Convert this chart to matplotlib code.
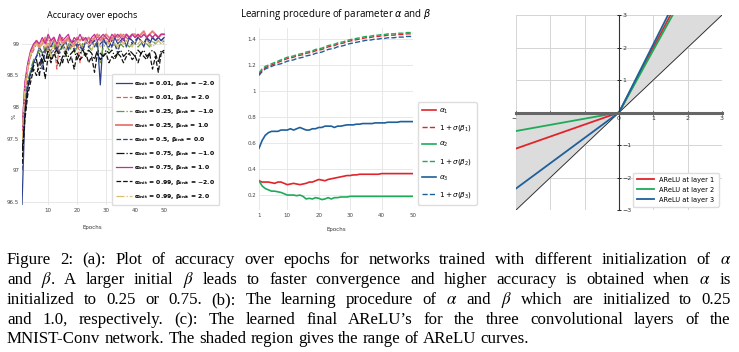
import numpy as np
import matplotlib
matplotlib.use("Agg")
import matplotlib.pyplot as plt

epochs = np.arange(1, 51)

# (a) accuracy over epochs
acc_labels = [
    r"$\mathbf{\alpha_{init}}$ = 0.01, $\mathbf{\beta_{init}}$ = $-$2.0",
    r"$\mathbf{\alpha_{init}}$ = 0.01, $\mathbf{\beta_{init}}$ = 2.0",
    r"$\mathbf{\alpha_{init}}$ = 0.25, $\mathbf{\beta_{init}}$ = $-$1.0",
    r"$\mathbf{\alpha_{init}}$ = 0.25, $\mathbf{\beta_{init}}$ = 1.0",
    r"$\mathbf{\alpha_{init}}$ = 0.5, $\mathbf{\beta_{init}}$ = 0.0",
    r"$\mathbf{\alpha_{init}}$ = 0.75, $\mathbf{\beta_{init}}$ = $-$1.0",
    r"$\mathbf{\alpha_{init}}$ = 0.75, $\mathbf{\beta_{init}}$ = 1.0",
    r"$\mathbf{\alpha_{init}}$ = 0.99, $\mathbf{\beta_{init}}$ = $-$2.0",
    r"$\mathbf{\alpha_{init}}$ = 0.99, $\mathbf{\beta_{init}}$ = 2.0",
]
acc_001_m2 = [96.45, 97.9, 98.3, 98.55, 98.7, 98.8, 98.95, 98.85, 98.9, 99.0,
              98.95, 99.05, 98.9, 99.0, 98.95, 99.05, 98.9, 99.0, 99.05, 98.95,
              99.0, 98.9, 99.05, 99.0, 99.05, 98.95, 99.05, 98.35, 99.1, 99.0,
              99.05, 98.95, 99.1, 99.0, 99.05, 99.1, 98.95, 99.1, 99.05, 99.0,
              99.1, 99.05, 98.95, 99.1, 99.0, 99.1, 99.05, 99.1, 99.05, 99.1]
acc_001_p2 = [97.3, 98.2, 98.6, 98.8, 98.9, 99.0, 98.95, 99.05, 98.85, 99.1,
              99.0, 99.05, 98.6, 99.05, 99.1, 99.0, 99.1, 99.05, 98.95, 99.1,
              98.7, 99.05, 99.1, 99.0, 99.1, 99.05, 99.1, 99.15, 99.05, 99.1,
              99.0, 99.1, 99.15, 99.05, 99.1, 99.15, 99.1, 99.05, 99.15, 99.1,
              99.15, 99.1, 99.15, 99.1, 99.15, 99.1, 99.15, 99.1, 99.15, 99.15]
acc_025_m1 = [97.4, 98.0, 98.4, 98.6, 98.75, 98.8, 98.9, 98.85, 98.95, 98.8,
              98.9, 99.0, 98.85, 98.9, 98.95, 98.8, 99.0, 98.9, 98.85, 98.95,
              98.9, 99.0, 98.8, 98.95, 98.9, 99.0, 98.95, 98.7, 98.95, 99.0,
              98.9, 98.95, 99.0, 98.9, 99.0, 98.95, 99.0, 98.95, 99.0, 99.0,
              98.95, 99.0, 99.05, 99.0, 98.95, 99.05, 99.0, 99.05, 99.0, 99.05]
acc_025_p1 = [97.5, 98.3, 98.65, 98.85, 98.95, 99.05, 98.95, 99.0, 99.1, 98.9,
              99.05, 99.1, 98.95, 99.1, 99.0, 99.05, 99.1, 98.95, 99.0, 99.1,
              99.05, 99.1, 99.05, 99.1, 99.0, 99.1, 99.15, 99.05, 99.1, 99.15,
              99.1, 99.05, 99.15, 99.1, 99.15, 99.1, 99.15, 99.1, 99.15, 99.15,
              99.1, 99.15, 99.2, 99.1, 99.15, 99.2, 99.15, 99.1, 99.15, 99.15]
acc_05_0 = [97.0, 98.0, 98.4, 98.55, 98.7, 98.8, 98.85, 98.6, 98.9, 98.95,
            98.85, 98.9, 98.95, 98.85, 99.0, 98.9, 98.95, 99.0, 98.9, 99.0,
            98.95, 98.9, 99.05, 98.95, 99.0, 99.05, 98.95, 99.0, 99.05, 99.0,
            98.95, 99.05, 99.0, 98.85, 99.05, 99.0, 99.05, 99.1, 99.0, 99.05,
            99.1, 99.05, 99.0, 99.1, 99.05, 99.1, 99.05, 99.1, 99.05, 99.1]
acc_075_m1 = [97.3, 97.9, 98.3, 98.5, 98.65, 98.75, 98.5, 98.85, 98.7, 98.9,
              98.75, 98.85, 98.9, 98.8, 98.7, 98.9, 98.8, 98.85, 98.9, 98.75,
              98.85, 98.9, 98.8, 98.9, 98.85, 98.75, 98.9, 98.85, 98.8, 98.9,
              98.85, 98.9, 98.8, 98.85, 98.9, 98.8, 98.85, 98.9, 98.85, 98.8,
              98.9, 98.85, 98.9, 98.8, 98.85, 98.9, 98.85, 98.7, 98.9, 98.85]
acc_075_p1 = [97.6, 98.4, 98.7, 98.9, 99.0, 99.05, 99.0, 99.1, 99.0, 99.15,
              99.05, 99.1, 99.0, 99.15, 99.05, 99.1, 99.15, 99.0, 99.1, 99.05,
              99.15, 99.05, 99.1, 99.0, 99.1, 99.15, 99.05, 99.1, 99.15, 99.1,
              99.05, 99.15, 99.1, 99.15, 99.1, 99.05, 99.15, 99.1, 99.15, 99.1,
              99.15, 99.1, 99.15, 99.1, 99.15, 99.1, 99.15, 99.1, 99.15, 99.15]
acc_099_m2 = [97.1, 97.8, 98.2, 98.4, 98.6, 98.5, 98.7, 98.75, 98.45, 98.8,
              98.7, 98.85, 98.75, 98.65, 98.8, 98.85, 98.7, 98.8, 98.6, 98.85,
              98.75, 98.8, 98.85, 98.7, 98.8, 98.55, 98.85, 98.75, 98.8, 98.85,
              98.7, 98.8, 98.75, 98.85, 98.8, 98.7, 98.8, 98.85, 98.75, 98.8,
              98.7, 98.85, 98.8, 98.75, 98.85, 98.6, 98.8, 98.55, 98.85, 98.9]
acc_099_p2 = [97.5, 98.3, 98.65, 98.85, 98.95, 99.0, 98.9, 99.05, 98.95, 99.0,
              98.8, 99.0, 99.05, 98.95, 99.0, 98.9, 99.05, 99.0, 98.95, 99.05,
              99.0, 98.95, 99.05, 99.0, 98.9, 99.0, 99.05, 98.95, 99.0, 99.05,
              99.0, 99.05, 99.0, 98.95, 99.05, 99.0, 99.05, 99.0, 98.95, 99.05,
              99.0, 99.05, 99.0, 99.05, 99.0, 98.95, 99.0, 99.05, 99.0, 99.0]
acc_series = [acc_001_m2, acc_001_p2, acc_025_m1, acc_025_p1, acc_05_0,
              acc_075_m1, acc_075_p1, acc_099_m2, acc_099_p2]
acc_colors = ["#2f3f8f", "#e0605a", "#6a9a3a", "#e8807a", "#2f3f8f",
              "#111111", "#c0309a", "#111111", "#d8c070"]
acc_styles = ["-", "--", "-.", "-", "--", "-.", "-", "--", "-."]
acc_widths = [0.9, 0.9, 0.9, 1.4, 0.9, 0.9, 0.9, 0.9, 0.9]

# (b) learning procedure of alpha and beta
alpha1 = [0.31, 0.30, 0.30, 0.30, 0.295, 0.29, 0.30, 0.30, 0.29, 0.28,
          0.285, 0.29, 0.285, 0.28, 0.285, 0.29, 0.30, 0.30, 0.31, 0.32,
          0.315, 0.31, 0.32, 0.325, 0.33, 0.335, 0.34, 0.345, 0.35, 0.35,
          0.355, 0.355, 0.36, 0.36, 0.36, 0.36, 0.36, 0.36, 0.36, 0.365,
          0.365, 0.365, 0.365, 0.365, 0.365, 0.365, 0.365, 0.365, 0.365, 0.365]
alpha2 = [0.31, 0.27, 0.25, 0.24, 0.23, 0.23, 0.225, 0.22, 0.21, 0.20,
          0.20, 0.20, 0.195, 0.20, 0.19, 0.17, 0.175, 0.17, 0.18, 0.175,
          0.165, 0.17, 0.18, 0.17, 0.18, 0.18, 0.185, 0.185, 0.185, 0.19,
          0.19, 0.19, 0.19, 0.19, 0.19, 0.19, 0.19, 0.19, 0.19, 0.19,
          0.19, 0.19, 0.19, 0.19, 0.19, 0.19, 0.19, 0.19, 0.19, 0.19]
alpha3 = [0.56, 0.62, 0.66, 0.68, 0.69, 0.69, 0.69, 0.70, 0.70, 0.70,
          0.71, 0.70, 0.71, 0.72, 0.71, 0.70, 0.70, 0.71, 0.71, 0.72,
          0.72, 0.73, 0.73, 0.73, 0.72, 0.73, 0.73, 0.735, 0.74, 0.74,
          0.74, 0.745, 0.745, 0.75, 0.75, 0.75, 0.75, 0.755, 0.755, 0.755,
          0.755, 0.76, 0.76, 0.76, 0.76, 0.765, 0.765, 0.765, 0.765, 0.765]
beta1 = [1.13, 1.16, 1.18, 1.19, 1.20, 1.21, 1.22, 1.23, 1.24, 1.25,
         1.255, 1.26, 1.27, 1.275, 1.28, 1.29, 1.295, 1.30, 1.31, 1.315,
         1.32, 1.33, 1.34, 1.345, 1.35, 1.36, 1.365, 1.37, 1.38, 1.385,
         1.39, 1.395, 1.40, 1.405, 1.41, 1.41, 1.415, 1.42, 1.42, 1.425,
         1.425, 1.43, 1.43, 1.43, 1.435, 1.435, 1.435, 1.44, 1.44, 1.44]
beta2 = [1.14, 1.17, 1.19, 1.20, 1.21, 1.22, 1.23, 1.24, 1.25, 1.26,
         1.265, 1.27, 1.28, 1.285, 1.29, 1.30, 1.305, 1.31, 1.32, 1.325,
         1.33, 1.34, 1.35, 1.355, 1.36, 1.37, 1.375, 1.38, 1.39, 1.395,
         1.40, 1.405, 1.41, 1.415, 1.42, 1.42, 1.425, 1.43, 1.43, 1.435,
         1.435, 1.44, 1.44, 1.44, 1.445, 1.445, 1.445, 1.45, 1.45, 1.45]
beta3 = [1.12, 1.15, 1.17, 1.18, 1.19, 1.20, 1.205, 1.21, 1.22, 1.23,
         1.235, 1.24, 1.25, 1.255, 1.26, 1.27, 1.275, 1.28, 1.29, 1.295,
         1.30, 1.31, 1.32, 1.325, 1.33, 1.34, 1.345, 1.35, 1.36, 1.365,
         1.37, 1.375, 1.38, 1.385, 1.39, 1.39, 1.395, 1.40, 1.40, 1.405,
         1.405, 1.41, 1.41, 1.41, 1.415, 1.415, 1.415, 1.42, 1.42, 1.42]
layer_colors = ["#e0242a", "#1faa5a", "#1f5f9a"]

# (c) learned final AReLU per layer
layer_labels = ["AReLU at layer 1", "AReLU at layer 2", "AReLU at layer 3"]
final_alpha = [0.37, 0.19, 0.78]
final_slope = [2.0, 1.92, 2.1]

W, H = 739, 352
fig = plt.figure(figsize=(W / 100, H / 100), dpi=100)


def px_axes(left, top, right, bottom):
    return fig.add_axes([left / W, 1 - bottom / H, (right - left) / W, (bottom - top) / H])


def clean(ax):
    for s in ax.spines.values():
        s.set_visible(False)
    ax.grid(color="#e4e4e4", lw=0.6)
    ax.set_axisbelow(True)
    ax.tick_params(length=0, labelsize=4, labelcolor="#444444", pad=2)


# ---- (a)
ax1 = px_axes(22, 28, 167, 205)
for vals, lab, c, ls, lw in zip(acc_series, acc_labels, acc_colors, acc_styles, acc_widths):
    ax1.plot(epochs, vals, color=c, ls=ls, lw=lw, label=lab)
ax1.set_xlim(1, 51)
ax1.set_ylim(96.45, 99.25)
ax1.set_xticks([10, 20, 30, 40, 50])
ax1.set_yticks([96.5, 97, 97.5, 98, 98.5, 99])
ax1.set_yticklabels(["96.5", "97", "97.5", "98", "98.5", "99"])
clean(ax1)
ax1.legend(loc="lower left", bbox_to_anchor=(0.62, 0.0), borderaxespad=0,
           prop={"size": 4.4, "weight": "bold"},
           labelspacing=0.84, handlelength=2.6, handletextpad=0.3, borderpad=0.7,
           frameon=True, framealpha=1, edgecolor="#dddddd", fancybox=True)
fig.text(92 / W, 1 - 15 / H, "Accuracy over epochs", ha="center", va="center",
         fontsize=6.5, family="Open Sans")
fig.text(92 / W, 1 - 228 / H, "Epochs", ha="center", va="center", fontsize=4, color="#333333")
fig.text(14 / W, 1 - 116 / H, "%", ha="center", va="center", fontsize=4, rotation=90,
         color="#333333")

# ---- (b)
ax2 = px_axes(259, 28, 413, 210)
for a, b, c, i in zip([alpha1, alpha2, alpha3], [beta1, beta2, beta3], layer_colors, [1, 2, 3]):
    ax2.plot(epochs, a, color=c, lw=1.2, label=r"$\alpha_%d$" % i)
    ax2.plot(epochs, b, color=c, lw=1.0, ls="--", label=r"$1+\sigma(\beta_%d)$" % i)
ax2.set_xlim(1, 50)
ax2.set_ylim(0.085, 1.485)
ax2.set_xticks([1, 10, 20, 30, 40, 50])
ax2.set_yticks([0.2, 0.4, 0.6, 0.8, 1.0, 1.2, 1.4])
ax2.set_yticklabels(["0.2", "0.4", "0.6", "0.8", "1", "1.2", "1.4"])
clean(ax2)
ax2.legend(loc="lower left", bbox_to_anchor=(1.03, 0.03), borderaxespad=0, fontsize=5.2,
           labelspacing=1.0, handlelength=2.0, handletextpad=0.4, borderpad=0.6,
           frameon=True, framealpha=1, edgecolor="#dddddd")
fig.text(336 / W, 1 - 14 / H, r"Learning procedure of parameter $\alpha$ and $\beta$",
         ha="center", va="center", fontsize=7, family="Open Sans")
fig.text(336 / W, 1 - 230 / H, "Epochs", ha="center", va="center", fontsize=4, color="#333333")

# ---- (c)
ax3 = px_axes(516, 15, 722, 210)
xs_neg = np.linspace(-3, 0, 50)
xs_pos = np.linspace(0, 3, 50)
ax3.fill_between(xs_neg, xs_neg, 0, color="#dcdcdc", lw=0)
ax3.fill_between(xs_pos, xs_pos, np.minimum(2 * xs_pos, 3), color="#dcdcdc", lw=0)
ax3.plot([-3, 3], [-3, 3], color="#222222", lw=0.6)
for a, k, c, lab in zip(final_alpha, final_slope, layer_colors, layer_labels):
    ax3.plot([-3, 0, 3 / k], [-3 * a, 0, 3], color=c, lw=1.3, label=lab)
ax3.set_xlim(-3, 3)
ax3.set_ylim(-3, 3)
ax3.set_xticks([-3, -2, -1, 0, 1, 2, 3])
ax3.set_yticks([-3, -2, -1, 1, 2, 3])
ax3.grid(color="#d4d4d4", lw=0.7)
ax3.set_axisbelow(True)
ax3.spines["top"].set_visible(False)
ax3.spines["left"].set_visible(False)
ax3.spines["bottom"].set_position("zero")
ax3.spines["bottom"].set_color("#666666")
ax3.spines["bottom"].set_linewidth(2.2)
ax3.spines["right"].set_position("zero")
ax3.spines["right"].set_color("#333333")
ax3.spines["right"].set_linewidth(0.8)
ax3.yaxis.set_ticks_position("right")
ax3.tick_params(axis="both", labelsize=4.5, labelcolor="#333333", length=3, width=0.6,
                direction="inout", pad=1)
ax3.legend(loc="lower right", fontsize=4.8, handlelength=2.6, borderpad=0.6,
           labelspacing=0.6, frameon=True, framealpha=1, edgecolor="#dddddd")

# ---- caption
caption_lines = [
    r"Figure 2: (a): Plot of accuracy over epochs for networks trained with different initialization of $\alpha$",
    r"and $\beta$.  A larger initial $\beta$ leads to faster convergence and higher accuracy is obtained when $\alpha$ is",
    r"initialized to 0.25 or 0.75.  (b): The learning procedure of $\alpha$ and $\beta$ which are initialized to 0.25",
    r"and 1.0, respectively.  (c): The learned final AReLU’s for the three convolutional layers of the",
    r"MNIST-Conv network. The shaded region gives the range of AReLU curves.",
]
caption_base = [264, 284, 304, 324, 343]
cap_left, cap_right = 7, 731
last_line_right = 530

fig.canvas.draw()
renderer = fig.canvas.get_renderer()


def make_words(line, size):
    return [fig.text(0, 0, w, fontsize=size, family="Liberation Serif",
                     math_fontfamily="stix", va="baseline") for w in line.split()]


def widths_of(texts):
    return [t.get_window_extent(renderer).width for t in texts]


# size the font from the unjustified last line
size = 12.0
for _ in range(3):
    ts = make_words(caption_lines[-1], size)
    ws = widths_of(ts)
    need = sum(ws) + 0.25 * size * 100 / 72 * (len(ws) - 1)
    for t in ts:
        t.remove()
    size *= (last_line_right - cap_left) / need

for i, (line, yb) in enumerate(zip(caption_lines, caption_base)):
    ts = make_words(line, size)
    ws = widths_of(ts)
    if i < len(caption_lines) - 1:
        gap = (cap_right - cap_left - sum(ws)) / (len(ws) - 1)
    else:
        gap = 0.25 * size * 100 / 72
    x = cap_left
    for t, w in zip(ts, ws):
        t.set_position((x / W, 1 - yb / H))
        x += w + gap

fig.savefig("out.png", dpi=100)
